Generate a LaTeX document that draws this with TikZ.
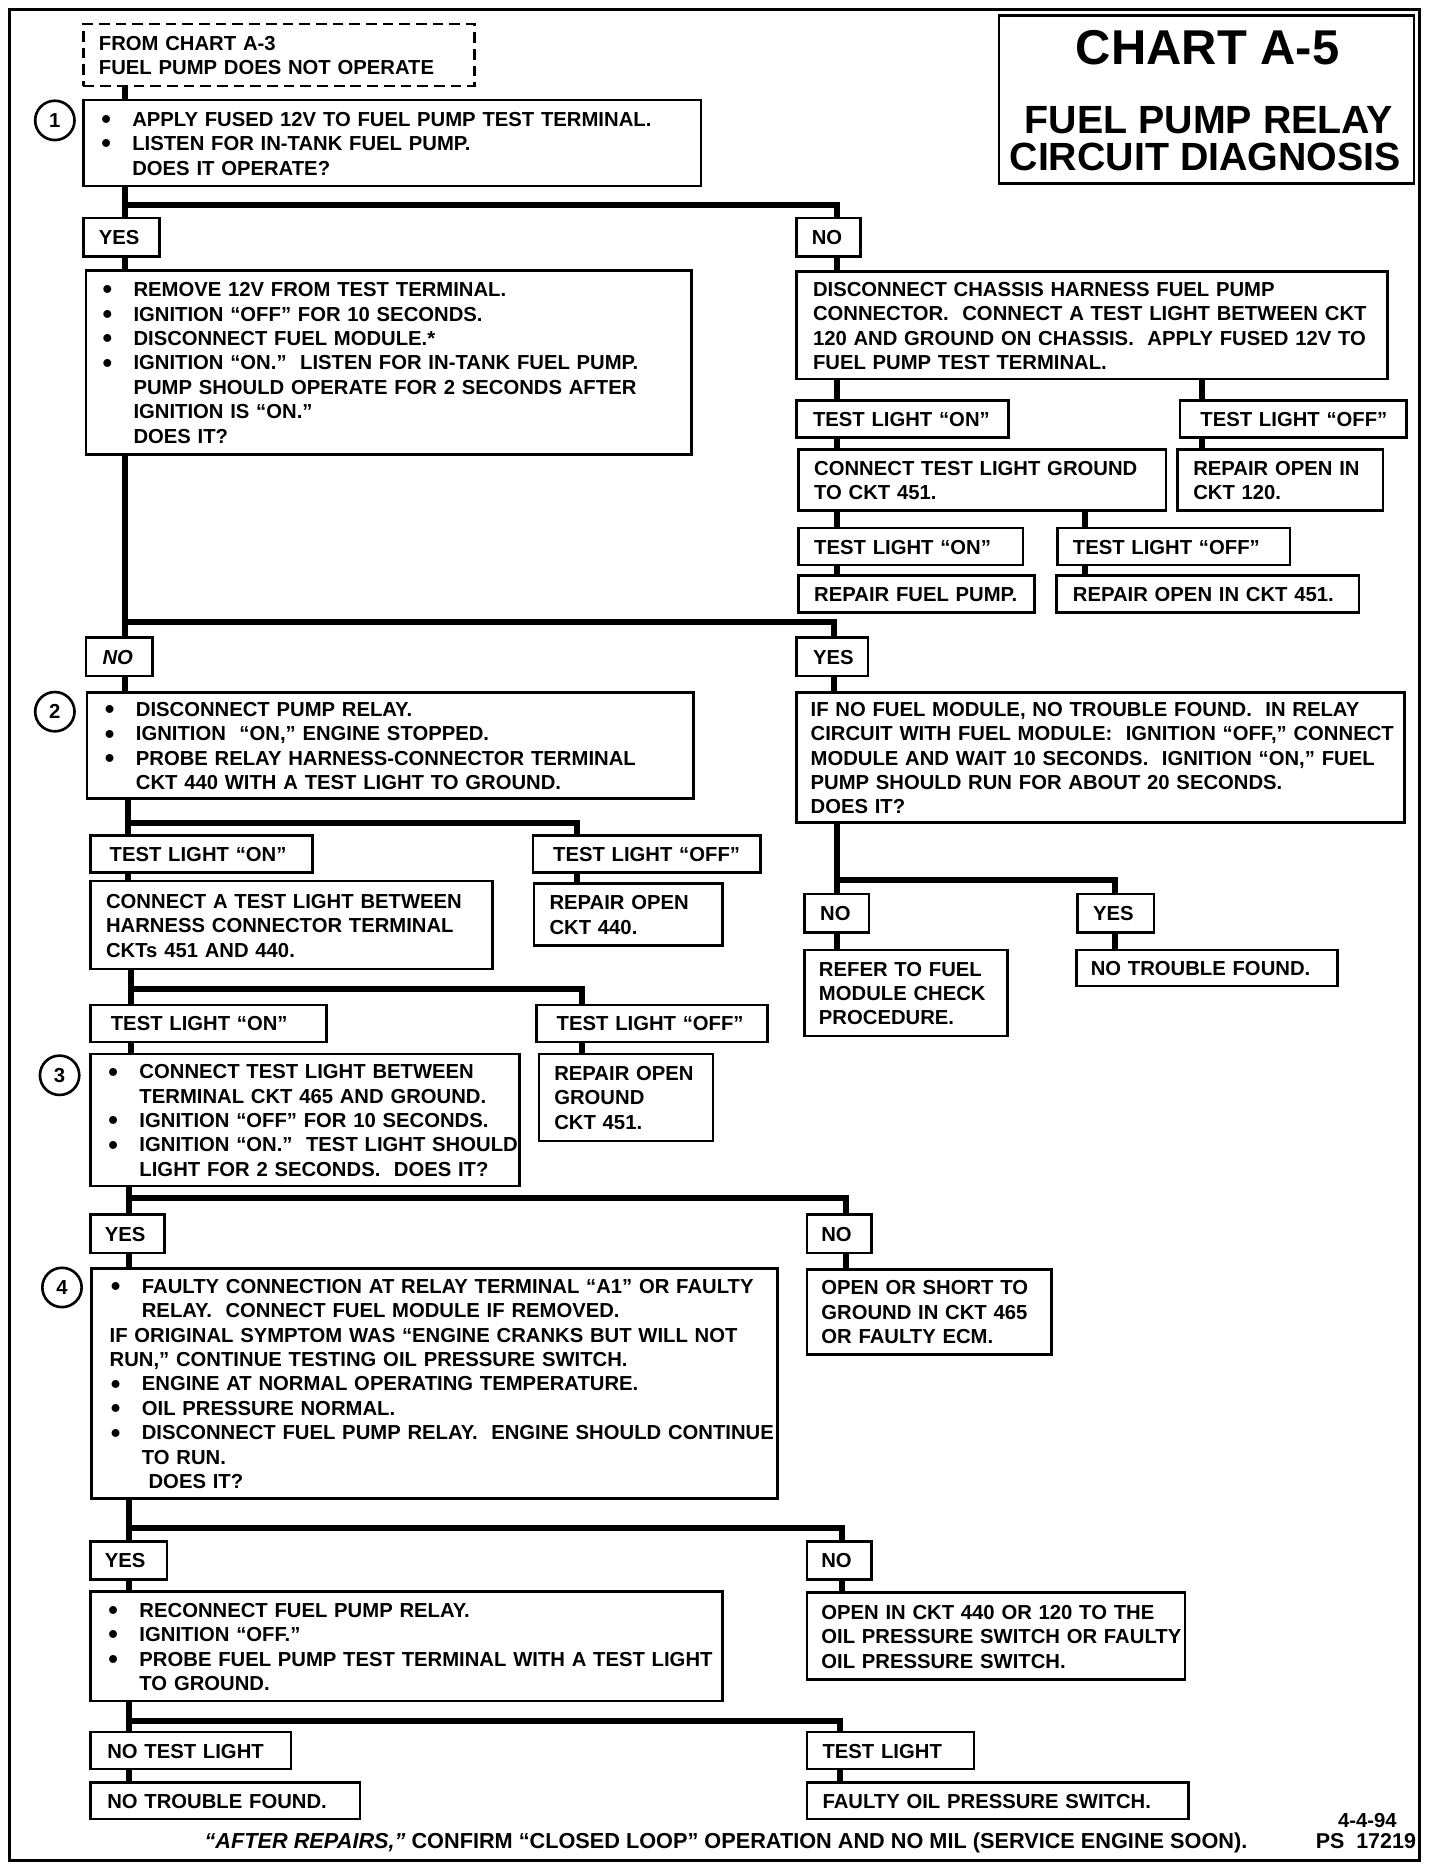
\documentclass[tikz,border=0pt]{standalone}
\usepackage{fontspec}
\setmainfont{Liberation Sans}
\newcommand\txt{\fontsize{17}{20.5}\selectfont\bfseries}
\newcommand\B{\makebox[27pt][l]{\hspace*{1pt}\raisebox{-2pt}{\fontsize{23}{20}\selectfont\textbullet}}}
\newcommand\I{\hspace*{27pt}}
\tikzset{
  box/.style={draw, line width=2.2pt, fill=white, anchor=north west, outer sep=0pt,
              inner ysep=1pt, align=left, font=\txt},
  conn/.style={line width=5pt, line join=miter},
  num/.style={circle, draw, line width=2.2pt, minimum size=33pt, inner sep=0pt, font=\txt},
}
\newcommand\bx[8][]{%
  \pgfmathsetmacro\bxW{#5-#3}%
  \pgfmathsetmacro\bxH{#6-#4}%
  \pgfmathsetmacro\bxT{#5-#3-2*#7}%
  \node[box,#1, inner xsep=#7pt, minimum width=\bxW pt, minimum height=\bxH pt, text width=\bxT pt]
    (#2) at (#3,#4) {\raisebox{-2.2pt}[\height][\depth]{\begin{tabular}{@{}l@{}}#8\end{tabular}}};}
\begin{document}
\begin{tikzpicture}[x=1pt,y=-1pt]
\fill[white] (0,0) rectangle (1208,1567);
\useasboundingbox (0,0) rectangle (1208,1567);
\draw[line width=2.6pt] (8,8) rectangle (1191,1561);

% title
\node[draw, line width=2.2pt, anchor=north west, minimum width=348pt, minimum height=141pt,
      outer sep=0pt, inner sep=0pt] (title) at (838,13) {};
\node[anchor=base, font=\fontsize{41}{41}\selectfont\bfseries] (tA) at (1013,54) {CHART A-5};
\node[anchor=base, font=\fontsize{33}{33}\selectfont\bfseries] (tB) at (1014,112) {FUEL PUMP RELAY};
\node[anchor=base, font=\fontsize{33}{33}\selectfont\bfseries] (tC) at (1011,143) {CIRCUIT DIAGNOSIS};

% step numbers
\node[num] (c1) at (46,101) {1};
\node[num] (c2) at (46,597) {2};
\node[num] (c3) at (50,902) {3};
\node[num] (c4) at (52,1080) {4};

% boxes
\bx[dashed, dash pattern=on 9pt off 5pt, line width=2pt]{dash}{70}{20}{398}{72}{13}{FROM CHART A-3\\FUEL PUMP DOES NOT OPERATE}
\bx{b1}{70}{84}{588}{156}{14}{\B APPLY FUSED 12V TO FUEL PUMP TEST TERMINAL.\\
\B LISTEN FOR IN-TANK FUEL PUMP.\\
\I DOES IT OPERATE?}
\bx{yes1}{70}{183}{134}{215}{13}{YES}
\bx{no1}{668}{183}{722}{215}{13}{NO}
\bx{b2}{72}{227}{580}{381}{13}{\B REMOVE 12V FROM TEST TERMINAL.\\
\B IGNITION “OFF” FOR 10 SECONDS.\\
\B DISCONNECT FUEL MODULE.*\\
\B IGNITION “ON.”~ LISTEN FOR IN-TANK FUEL PUMP.\\
\I PUMP SHOULD OPERATE FOR 2 SECONDS AFTER\\
\I IGNITION IS “ON.”\\
\I DOES IT?}
\bx{r1}{668}{228}{1164}{318}{14}{DISCONNECT CHASSIS HARNESS FUEL PUMP\\
CONNECTOR.~ CONNECT A TEST LIGHT BETWEEN CKT\\
120 AND GROUND ON CHASSIS.~ APPLY FUSED 12V TO\\
FUEL PUMP TEST TERMINAL.}
\bx{tlon1}{668}{336}{846}{367}{14}{TEST LIGHT “ON”}
\bx{tloff1}{990}{336}{1180}{367}{17}{TEST LIGHT “OFF”}
\bx{r2}{670}{377}{978}{428}{13}{CONNECT TEST LIGHT GROUND\\TO CKT 451.}
\bx{r3}{988}{377}{1160}{428}{13}{REPAIR OPEN IN\\CKT 120.}
\bx{tlon2}{670}{443}{858}{474}{13}{TEST LIGHT “ON”}
\bx{tloff2}{887}{443}{1082}{474}{13}{TEST LIGHT “OFF”}
\bx{r4}{670}{483}{868}{514}{13}{REPAIR FUEL PUMP.}
\bx{r5}{886}{483}{1140}{514}{14}{REPAIR OPEN IN CKT 451.}
\bx{no2}{72}{535}{128}{567}{14}{\textit{NO}}
\bx{yes2}{668}{535}{728}{567}{14}{YES}
\bx{b3}{73}{581}{582}{670}{14}{\B DISCONNECT PUMP RELAY.\\
\B IGNITION~ “ON,” ENGINE STOPPED.\\
\B PROBE RELAY HARNESS-CONNECTOR TERMINAL\\
\I CKT 440 WITH A TEST LIGHT TO GROUND.}
\bx{r10}{668}{581}{1178}{690}{12}{IF NO FUEL MODULE, NO TROUBLE FOUND.~ IN RELAY\\
CIRCUIT WITH FUEL MODULE:~ IGNITION “OFF,” CONNECT\\
MODULE AND WAIT 10 SECONDS.~ IGNITION “ON,” FUEL\\
PUMP SHOULD RUN FOR ABOUT 20 SECONDS.\\
DOES IT?}
\bx{tlon3}{76}{701}{262}{732}{16}{TEST LIGHT “ON”}
\bx{tloff3}{447}{701}{638}{732}{17}{TEST LIGHT “OFF”}
\bx{b4}{76}{739}{413}{813}{13}{CONNECT A TEST LIGHT BETWEEN\\
HARNESS CONNECTOR TERMINAL\\
CKTs 451 AND 440.}
\bx{r6}{448}{741}{606}{793}{13}{REPAIR OPEN\\CKT 440.}
\bx{no5}{675}{750}{729}{782}{13}{NO}
\bx{yes5}{904}{750}{968}{782}{13}{YES}
\bx{r11}{675}{797}{845}{869}{12}{REFER TO FUEL\\MODULE CHECK\\PROCEDURE.}
\bx{r12}{903}{797}{1122}{827}{12}{NO TROUBLE FOUND.}
\bx{tlon4}{76}{843}{274}{874}{17}{TEST LIGHT “ON”}
\bx{tloff4}{450}{843}{644}{874}{17}{TEST LIGHT “OFF”}
\bx{b5}{76}{884}{436}{995}{14}{\B CONNECT TEST LIGHT BETWEEN\\
\I TERMINAL CKT 465 AND GROUND.\\
\B IGNITION “OFF” FOR 10 SECONDS.\\
\B IGNITION “ON.”~ TEST LIGHT SHOULD\\
\I LIGHT FOR 2 SECONDS.~ DOES IT?}
\bx{r7}{452}{884}{598}{957}{13}{REPAIR OPEN\\GROUND\\CKT 451.}
\bx{yes3}{76}{1019}{138}{1051}{12}{YES}
\bx{no3}{677}{1019}{731}{1051}{12}{NO}
\bx{b6}{77}{1064}{652}{1257}{15}{\B FAULTY CONNECTION AT RELAY TERMINAL “A1” OR FAULTY\\
\I RELAY.~ CONNECT FUEL MODULE IF REMOVED.\\
IF ORIGINAL SYMPTOM WAS “ENGINE CRANKS BUT WILL NOT\\
RUN,” CONTINUE TESTING OIL PRESSURE SWITCH.\\
\B ENGINE AT NORMAL OPERATING TEMPERATURE.\\
\B OIL PRESSURE NORMAL.\\
\B DISCONNECT FUEL PUMP RELAY.~ ENGINE SHOULD CONTINUE\\
\I TO RUN.\\
\I \ DOES IT?}
\bx{r8}{677}{1065}{882}{1136}{12}{OPEN OR SHORT TO\\GROUND IN CKT 465\\OR FAULTY ECM.}
\bx{yes4}{76}{1293}{140}{1325}{12}{YES}
\bx{no4}{677}{1293}{731}{1325}{12}{NO}
\bx{b7}{76}{1335}{606}{1427}{14}{\B RECONNECT FUEL PUMP RELAY.\\
\B IGNITION “OFF.”\\
\B PROBE FUEL PUMP TEST TERMINAL WITH A TEST LIGHT\\
\I TO GROUND.}
\bx{r9}{677}{1336}{994}{1409}{12}{OPEN IN CKT 440 OR 120 TO THE\\
OIL PRESSURE SWITCH OR FAULTY\\
OIL PRESSURE SWITCH.}
\bx{ntl}{76}{1453}{244}{1484}{14}{NO TEST LIGHT}
\bx{tl}{677}{1453}{817}{1484}{13}{TEST LIGHT}
\bx{ntf}{76}{1495}{302}{1526}{14}{NO TROUBLE FOUND.}
\bx{fops}{677}{1495}{997}{1526}{13}{FAULTY OIL PRESSURE SWITCH.}

% footer
\node[anchor=base, font=\fontsize{18.2}{20}\selectfont\bfseries, inner sep=0pt] (foot) at (609,1551)
  {\textit{“AFTER REPAIRS,”} CONFIRM “CLOSED LOOP” OPERATION AND NO MIL (SERVICE ENGINE SOON).};
\node[anchor=base, font=\txt, inner sep=0pt] (date) at (1147,1533) {4-4-94};
\node[anchor=base east, font=\fontsize{18}{20}\selectfont\bfseries, inner sep=0pt] (ps) at (1188,1551) {PS\hspace{10pt}17219};

% connector guide coordinates
\coordinate (x105) at (105,0);
\coordinate (x107) at (107,0);
\coordinate (x108) at (108,0);
\coordinate (x110) at (110,0);
\coordinate (x484) at (484,0);
\coordinate (x488) at (488,0);
\coordinate (x700) at (700,0);
\coordinate (x702) at (702,0);
\coordinate (x705) at (705,0);
\coordinate (x706) at (706,0);
\coordinate (x710) at (710,0);
\coordinate (x910) at (910,0);
\coordinate (x935) at (935,0);
\coordinate (x1008) at (1008,0);
\coordinate (y172) at (0,172);
\coordinate (y522) at (0,522);
\coordinate (y690) at (0,690);
\coordinate (y738) at (0,738);
\coordinate (y830) at (0,830);
\coordinate (y1005) at (0,1005);
\coordinate (y1282) at (0,1282);
\coordinate (y1444) at (0,1444);

% connectors
\draw[conn] (dash.south -| x105) -- (b1.north -| x105);
\draw[conn] (b1.south -| x105) -- (yes1.north -| x105);
\draw[conn] (x105 |- y172) -| (no1.north -| x702);
\draw[conn] (yes1.south -| x105) -- (b2.north -| x105);
\draw[conn] (b2.south -| x105) -- (no2.north -| x105);
\draw[conn] (x105 |- y522) -| (yes2.north -| x700);
\draw[conn] (no1.south -| x702) -- (r1.north -| x702);
\draw[conn] (r1.south -| x702) -- (tlon1.north -| x702);
\draw[conn] (r1.south -| x1008) -- (tloff1.north -| x1008);
\draw[conn] (tlon1.south -| x702) -- (r2.north -| x702);
\draw[conn] (tloff1.south -| x1008) -- (r3.north -| x1008);
\draw[conn] (r2.south -| x702) -- (tlon2.north -| x702);
\draw[conn] (r2.south -| x910) -- (tloff2.north -| x910);
\draw[conn] (tlon2.south -| x702) -- (r4.north -| x702);
\draw[conn] (tloff2.south -| x910) -- (r5.north -| x910);
\draw[conn] (yes2.south -| x700) -- (r10.north -| x700);
\draw[conn] (r10.south -| x702) -- (no5.north -| x702);
\draw[conn] (x702 |- y738) -| (yes5.north -| x935);
\draw[conn] (no5.south -| x702) -- (r11.north -| x702);
\draw[conn] (yes5.south -| x935) -- (r12.north -| x935);
\draw[conn] (no2.south -| x105) -- (b3.north -| x105);
\draw[conn] (b3.south -| x107) -- (tlon3.north -| x107);
\draw[conn] (x107 |- y690) -| (tloff3.north -| x484);
\draw[conn] (tlon3.south -| x107) -- (b4.north -| x107);
\draw[conn] (tloff3.south -| x484) -- (r6.north -| x484);
\draw[conn] (b4.south -| x110) -- (tlon4.north -| x110);
\draw[conn] (x110 |- y830) -| (tloff4.north -| x488);
\draw[conn] (tlon4.south -| x110) -- (b5.north -| x110);
\draw[conn] (tloff4.south -| x488) -- (r7.north -| x488);
\draw[conn] (b5.south -| x108) -- (yes3.north -| x108);
\draw[conn] (x108 |- y1005) -| (no3.north -| x710);
\draw[conn] (yes3.south -| x108) -- (b6.north -| x108);
\draw[conn] (no3.south -| x710) -- (r8.north -| x710);
\draw[conn] (b6.south -| x108) -- (yes4.north -| x108);
\draw[conn] (x108 |- y1282) -| (no4.north -| x706);
\draw[conn] (yes4.south -| x108) -- (b7.north -| x108);
\draw[conn] (no4.south -| x706) -- (r9.north -| x706);
\draw[conn] (b7.south -| x108) -- (ntl.north -| x108);
\draw[conn] (x108 |- y1444) -| (tl.north -| x705);
\draw[conn] (ntl.south -| x108) -- (ntf.north -| x108);
\draw[conn] (tl.south -| x705) -- (fops.north -| x705);
\end{tikzpicture}
\end{document}
